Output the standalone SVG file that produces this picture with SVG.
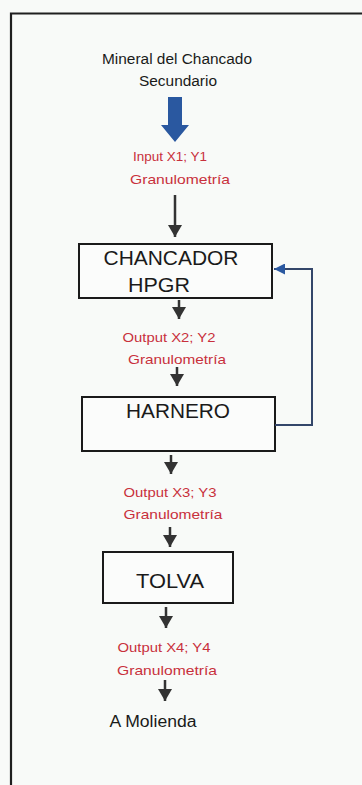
<svg xmlns="http://www.w3.org/2000/svg" width="362" height="785" viewBox="0 0 362 785">
<style>
.lbl{font-family:"Liberation Sans",Arial,sans-serif;font-size:14px;fill:#1a1a1a;text-anchor:middle}
.red{font-family:"Liberation Sans",Arial,sans-serif;font-size:13.5px;fill:#c8303c;text-anchor:middle}
.box{fill:#fbfcfb;stroke:#1a1a1a;stroke-width:2}
.bt{font-family:"Liberation Sans",Arial,sans-serif;font-size:21px;fill:#1a1a1a;text-anchor:middle}
.conn{stroke:#333;stroke-width:2.5;fill:none}
</style>
<defs>
<marker id="ah" viewBox="0 0 12 14" refX="12" refY="7" markerUnits="userSpaceOnUse" markerWidth="12" markerHeight="14" orient="auto">
<path d="M0,0 L12,7 L0,14 Z" fill="#333"/>
</marker>
<marker id="ahb" viewBox="0 0 12 12" refX="12" refY="6" markerUnits="userSpaceOnUse" markerWidth="12" markerHeight="11" orient="auto">
<path d="M0,0 L12,6 L0,12 Z" fill="#2a58a0"/>
</marker>
</defs>
<rect width="362" height="785" fill="#f8faf8"/>
<path d="M11,790 L11,13.5 L370,13.5" stroke="#1f1f1f" stroke-width="2.2" fill="none"/>

<g id="source">
<text class="lbl" x="177" y="64" textLength="150" lengthAdjust="spacingAndGlyphs">Mineral del Chancado</text>
<text class="lbl" x="178" y="86" textLength="78" lengthAdjust="spacingAndGlyphs">Secundario</text>
<path d="M168,97 L182,97 L182,125 L189,125 L175,142 L161,125 L168,125 Z" fill="#2a58a0"/>
</g>
<g id="input-label">
<text class="red" x="170" y="161" textLength="74" lengthAdjust="spacingAndGlyphs">Input X1; Y1</text>
<text class="red" x="180" y="184" textLength="100" lengthAdjust="spacingAndGlyphs">Granulometría</text>
</g>
<g id="chancador">
<rect class="box" x="79" y="244" width="193" height="54"/>
<text class="bt" x="171" y="265" textLength="135" lengthAdjust="spacingAndGlyphs">CHANCADOR</text>
<text class="bt" x="159" y="292" textLength="62" lengthAdjust="spacingAndGlyphs">HPGR</text>
</g>
<g id="output2">
<text class="red" x="169" y="342" textLength="93" lengthAdjust="spacingAndGlyphs">Output X2; Y2</text>
<text class="red" x="177" y="364" textLength="98" lengthAdjust="spacingAndGlyphs">Granulometría</text>
</g>
<g id="harnero">
<rect class="box" x="82" y="397" width="193" height="54"/>
<text class="bt" x="178" y="418" textLength="104" lengthAdjust="spacingAndGlyphs">HARNERO</text>
</g>
<g id="output3">
<text class="red" x="170" y="497" textLength="93" lengthAdjust="spacingAndGlyphs">Output X3; Y3</text>
<text class="red" x="173" y="519" textLength="99" lengthAdjust="spacingAndGlyphs">Granulometría</text>
</g>
<g id="tolva">
<rect class="box" x="103" y="552" width="130" height="51"/>
<text class="bt" x="170" y="588" textLength="68" lengthAdjust="spacingAndGlyphs">TOLVA</text>
</g>
<g id="output4">
<text class="red" x="164" y="652" textLength="93" lengthAdjust="spacingAndGlyphs">Output X4; Y4</text>
<text class="red" x="167" y="675" textLength="100" lengthAdjust="spacingAndGlyphs">Granulometría</text>
</g>
<g id="molienda">
<text class="lbl" x="153" y="727" style="font-size:16px" textLength="87" lengthAdjust="spacingAndGlyphs">A Molienda</text>
</g>

<g id="connectors">
<line class="conn" x1="175" y1="195" x2="175" y2="237" marker-end="url(#ah)"/>
<line class="conn" x1="179" y1="300" x2="179" y2="319" marker-end="url(#ah)"/>
<line class="conn" x1="177" y1="367" x2="177" y2="386" marker-end="url(#ah)"/>
<line class="conn" x1="171" y1="455" x2="171" y2="474" marker-end="url(#ah)"/>
<line class="conn" x1="170" y1="527" x2="170" y2="547" marker-end="url(#ah)"/>
<line class="conn" x1="166" y1="607" x2="166" y2="628" marker-end="url(#ah)"/>
<line class="conn" x1="165" y1="680" x2="165" y2="701" marker-end="url(#ah)"/>
<path d="M275,425 L312,425 L312,269 L274,269" stroke="#34466a" stroke-width="2" fill="none" marker-end="url(#ahb)"/>
</g>
</svg>
